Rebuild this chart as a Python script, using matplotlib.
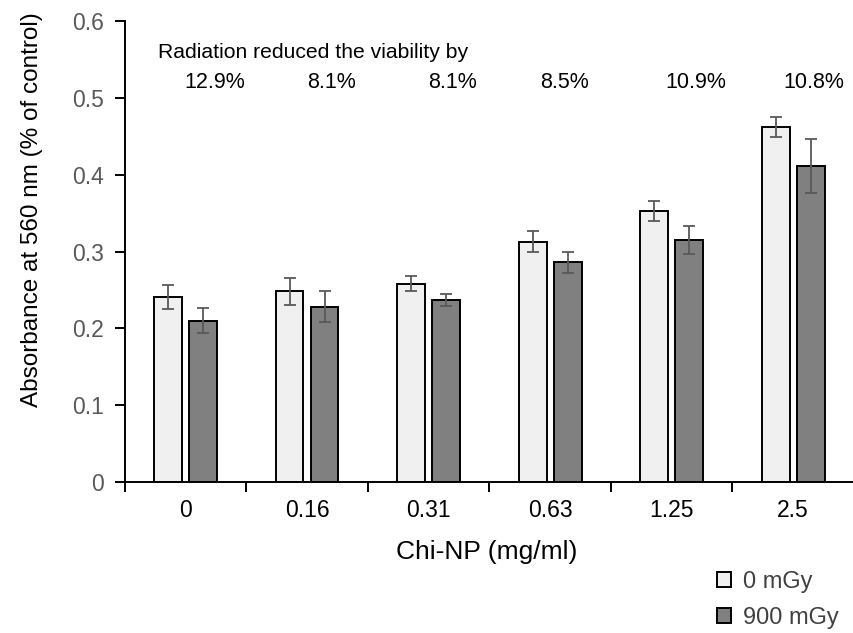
import numpy as np
import matplotlib.pyplot as plt
from matplotlib.ticker import FixedLocator, NullFormatter

plt.rcParams['font.family'] = ['Liberation Sans', 'DejaVu Sans']

# data
categories = ['0', '0.16', '0.31', '0.63', '1.25', '2.5']
ctrl_mean = [0.241, 0.248, 0.258, 0.313, 0.353, 0.462]
ctrl_err = [0.016, 0.017, 0.010, 0.014, 0.013, 0.013]
rad_mean = [0.210, 0.228, 0.237, 0.286, 0.315, 0.411]
rad_err = [0.016, 0.020, 0.008, 0.014, 0.018, 0.035]
reduction = ['12.9%', '8.1%', '8.1%', '8.5%', '10.9%', '10.8%']
series_names = ['0 mGy', '900 mGy']

fig = plt.figure(figsize=(8.54, 6.33), dpi=100)
ax = fig.add_axes([0.146, 0.2385, 0.854, 0.7283])

x = np.arange(len(categories))
w = 0.23
off = 0.144
err_kw = dict(ecolor='#595959', elinewidth=1.3, capsize=4, capthick=1.3)
b1 = ax.bar(x - off, ctrl_mean, w, yerr=ctrl_err, color='#f0f0f0',
            edgecolor='black', linewidth=1.4, error_kw=err_kw, label=series_names[0])
b2 = ax.bar(x + off, rad_mean, w, yerr=rad_err, color='#808080',
            edgecolor='black', linewidth=1.4, error_kw=err_kw, label=series_names[1])

ax.set_xlim(-0.5, 5.5)
ax.set_ylim(0, 0.6)
ax.set_yticks(np.arange(0, 0.61, 0.1))
ax.set_yticklabels(['0'] + ['%.1f' % v for v in np.arange(0.1, 0.61, 0.1)])
ax.set_xticks(x)
ax.set_xticklabels(categories)
ax.xaxis.set_minor_locator(FixedLocator(np.arange(-0.5, 5.6, 1.0)))
ax.xaxis.set_minor_formatter(NullFormatter())
ax.tick_params(axis='x', which='major', length=0, labelsize=16.5, pad=12, labelcolor='black')
ax.tick_params(axis='x', which='minor', length=7, width=1.4, direction='out')
ax.tick_params(axis='y', length=7, width=1.4, labelsize=16.5, labelcolor='#595959', pad=8)

for s in ['top', 'right']:
    ax.spines[s].set_visible(False)
for s in ['left', 'bottom']:
    ax.spines[s].set_linewidth(1.4)

ax.set_xlabel('Chi-NP (mg/ml)', fontsize=19)
ax.xaxis.set_label_coords(0.497, -0.125)
ax.set_ylabel('Absorbance at 560 nm (% of control)', fontsize=17.5)
ax.yaxis.set_label_coords(-0.112, 0.59)

# annotation above bars
ax.text(-0.225, 0.5595, 'Radiation reduced the viability by', fontsize=15.2, va='center', ha='left')
pct_pos = [0.243, 1.198, 2.193, 3.115, 4.20, 5.17]
for p, t in zip(pct_pos, reduction):
    ax.text(p, 0.5195, t, fontsize=15.5, ha='center', va='center')

fig.legend(handles=[b1, b2], labels=series_names, loc='upper left',
           bbox_to_anchor=(0.815, 0.132), frameon=False, fontsize=17,
           handlelength=0.58, handleheight=0.58, handletextpad=0.5, labelspacing=0.6,
           labelcolor='#404040')

fig.savefig('out.png', dpi=100)
